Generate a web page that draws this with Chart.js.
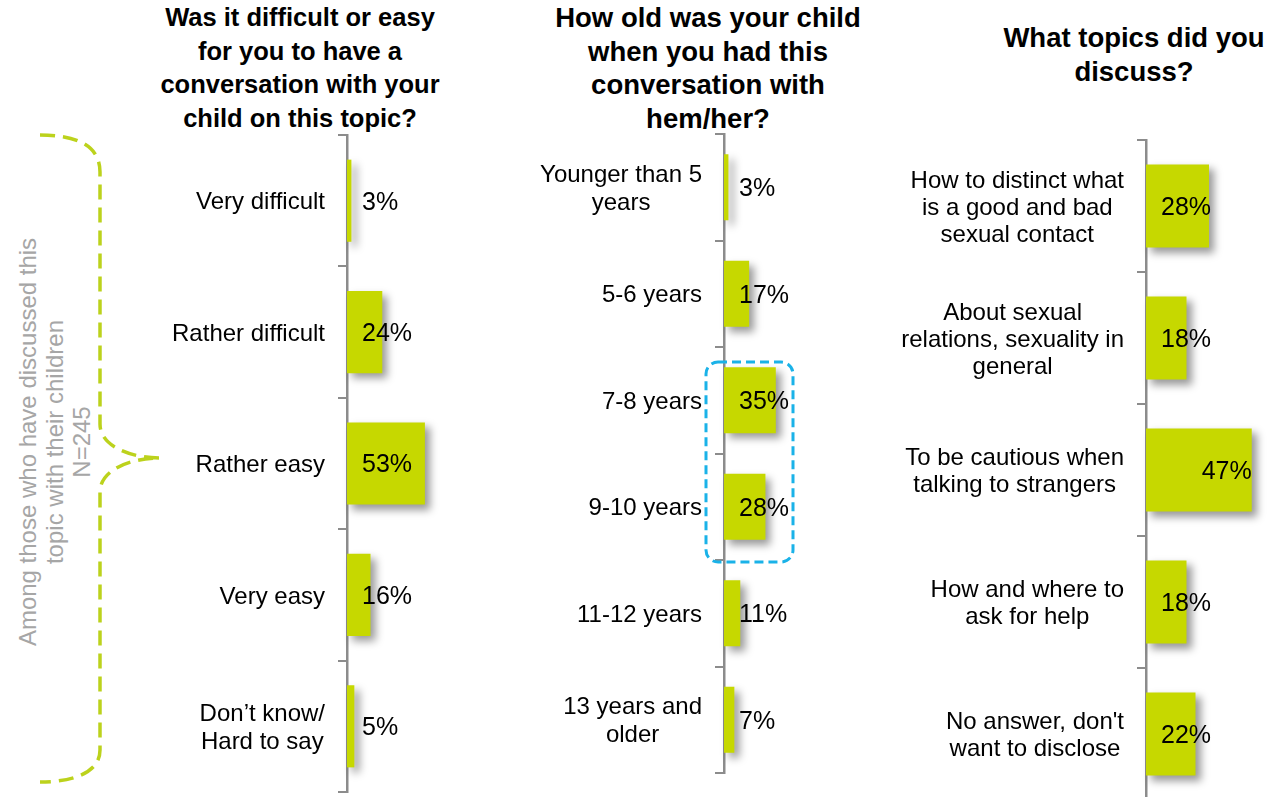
<!DOCTYPE html>
<html>
<head>
<meta charset="utf-8">
<script src="https://cdn.jsdelivr.net/npm/chart.js@4.4.0/dist/chart.umd.min.js"></script>
<style>
html, body { margin: 0; padding: 0; width: 1278px; height: 797px; overflow: hidden; background: #fff; }
body { position: relative; font-family: "Liberation Sans", Arial, sans-serif; }
canvas { position: absolute; }
.title { position: absolute; transform: translateX(-50%); text-align: center; font-weight: bold; color: #000; line-height: 33.5px; white-space: nowrap; }
svg { position: absolute; left: 0; top: 0; }
</style>
</head>
<body>

<div class="title" style="left:300px; top:1px; font-size:25.5px">Was it difficult or easy<br>for you to have a<br>conversation with your<br>child on this topic?</div>
<div class="title" style="left:708px; top:1px; font-size:27.5px">How old was your child<br>when you had this<br>conversation with<br>hem/her?</div>
<div class="title" style="left:1134px; top:21px; font-size:27.5px">What topics did you<br>discuss?</div>

<svg width="200" height="797">
  <path d="M40,135 C72,135 100,143 100,172 L100,424 C100,446 130,458 160,458 C130,458 100,470 100,492 L100,750 C100,773 72,782 40,782"
        fill="none" stroke="#bcd21c" stroke-width="3.5" stroke-dasharray="15,8"/>
  <g transform="translate(54,442) rotate(-90)" fill="#a6a6a6" font-family="Liberation Sans, Arial, sans-serif" font-size="24" text-anchor="middle" dominant-baseline="central">
    <text y="-27">Among those who have discussed this</text>
    <text y="0">topic with their children</text>
    <text y="27">N=245</text>
  </g>
</svg>

<canvas id="difficultyChart" width="370" height="672" style="left:150px; top:125px"></canvas>
<canvas id="ageChart" width="340" height="673" style="left:520px; top:124px"></canvas>
<canvas id="topicChart" width="418" height="672" style="left:860px; top:130px"></canvas>

<script>
// Data
const difficultyLabels = ['Very difficult', 'Rather difficult', 'Rather easy', 'Very easy', ['Don\u2019t know/', 'Hard to say']];
const difficultyValues = [3, 24, 53, 16, 5];

const ageLabels = [['Younger than 5', 'years'], '5-6 years', '7-8 years', '9-10 years', '11-12 years', ['13 years and', 'older']];
const ageValues = [3, 17, 35, 28, 11, 7];

const topicLabels = [
    ['How to distinct what', 'is a good and bad', 'sexual contact'],
    ['About sexual', 'relations, sexuality in', 'general'],
    ['To be cautious when', 'talking to strangers'],
    ['How and where to', 'ask for help'],
    ['No answer, don\'t', 'want to disclose']
];
const topicValues = [28, 18, 47, 18, 22];

const FONT = '"Liberation Sans", Arial, sans-serif';
const BAR_COLOR = '#c6d800';
const AXIS_COLOR = '#8c8c8c';

Chart.defaults.font.family = FONT;

// Bar shadow, category labels and value labels
const barLook = {
    id: 'barLook',
    beforeDatasetsDraw(chart) {
        const ctx = chart.ctx;
        ctx.save();
        ctx.shadowColor = 'rgba(0, 0, 0, 0.4)';
        ctx.shadowBlur = 8;
        ctx.shadowOffsetX = 5;
        ctx.shadowOffsetY = 5;
    },
    afterDatasetsDraw(chart, args, opts) {
        const ctx = chart.ctx;
        ctx.restore();
        const yScale = chart.scales.y;
        const left = chart.chartArea.left;

        ctx.save();
        ctx.fillStyle = '#000';
        ctx.textBaseline = 'middle';
        ctx.textAlign = 'center';
        ctx.font = '24px ' + FONT;
        chart.data.labels.forEach((lab, i) => {
            const lines = Array.isArray(lab) ? lab : [lab];
            const w = Math.max(...lines.map(l => ctx.measureText(l).width));
            const cx = left - opts.labelGap - w / 2;
            const cy = yScale.getPixelForTick(i) + 2;
            lines.forEach((l, k) => {
                ctx.fillText(l, cx, cy + (k - (lines.length - 1) / 2) * opts.lineHeight);
            });
        });

        ctx.font = '25px ' + FONT;
        const values = chart.data.datasets[0].data;
        chart.getDatasetMeta(0).data.forEach((bar, i) => {
            const txt = values[i] + '%';
            if ((opts.endAligned || []).includes(i)) {
                ctx.textAlign = 'right';
                ctx.fillText(txt, bar.x, bar.y + 2);
            } else {
                ctx.textAlign = 'left';
                ctx.fillText(txt, left + 15, bar.y + 2);
            }
        });
        ctx.restore();
    }
};

// Dashed frame around some rows
const highlight = {
    id: 'highlight',
    afterDraw(chart, args, opts) {
        if (!opts.rows) return;
        const ctx = chart.ctx;
        const yScale = chart.scales.y;
        const band = (yScale.bottom - yScale.top) / chart.data.labels.length;
        const top = yScale.getPixelForTick(opts.rows[0]) - band / 2 + 15;
        const bottom = yScale.getPixelForTick(opts.rows[1]) + band / 2 + 2;
        const l = chart.chartArea.left - 18;
        const r = chart.chartArea.left + 69;
        ctx.save();
        ctx.strokeStyle = '#1ab2e8';
        ctx.lineWidth = 3;
        ctx.setLineDash([9, 5]);
        ctx.beginPath();
        ctx.roundRect(l, top, r - l, bottom - top, 12);
        ctx.stroke();
        ctx.restore();
    }
};

function makeChart(id, labels, values, o) {
    const plugins = [barLook];
    if (o.highlight) plugins.push(highlight);
    return new Chart(document.getElementById(id), {
        type: 'bar',
        data: {
            labels: labels,
            datasets: [{
                data: values,
                backgroundColor: BAR_COLOR,
                borderWidth: 0,
                barPercentage: o.barPct,
                categoryPercentage: 1,
                clip: false
            }]
        },
        options: {
            indexAxis: 'y',
            responsive: false,
            animation: false,
            layout: { padding: o.padding },
            scales: {
                x: { display: false, min: 0, max: o.max },
                y: {
                    grid: {
                        offset: true,
                        drawOnChartArea: false,
                        drawTicks: true,
                        tickLength: 9,
                        color: AXIS_COLOR,
                        lineWidth: 2
                    },
                    border: { display: true, color: AXIS_COLOR, width: 2.5 },
                    ticks: { display: false },
                    afterFit(scale) { scale.width = o.axisWidth; }
                }
            },
            plugins: {
                legend: { display: false },
                tooltip: { enabled: false },
                barLook: { labelGap: 22, lineHeight: o.lineHeight, endAligned: o.endAligned },
                highlight: o.highlight || {}
            }
        },
        plugins: plugins
    });
}

makeChart('difficultyChart', difficultyLabels, difficultyValues, {
    max: 100, axisWidth: 197, barPct: 0.625, lineHeight: 28,
    padding: { top: 10, bottom: 5, left: 0, right: 26 }
});

makeChart('ageChart', ageLabels, ageValues, {
    max: 50, axisWidth: 204, barPct: 0.62, lineHeight: 28,
    padding: { top: 10, bottom: 24, left: 0, right: 62 },
    highlight: { rows: [2, 3] }
});

makeChart('topicChart', topicLabels, topicValues, {
    max: 50, axisWidth: 286, barPct: 0.63, lineHeight: 27,
    padding: { top: 10, bottom: 2, left: 0, right: 19.5 },
    endAligned: [2]
});
</script>
</body>
</html>
